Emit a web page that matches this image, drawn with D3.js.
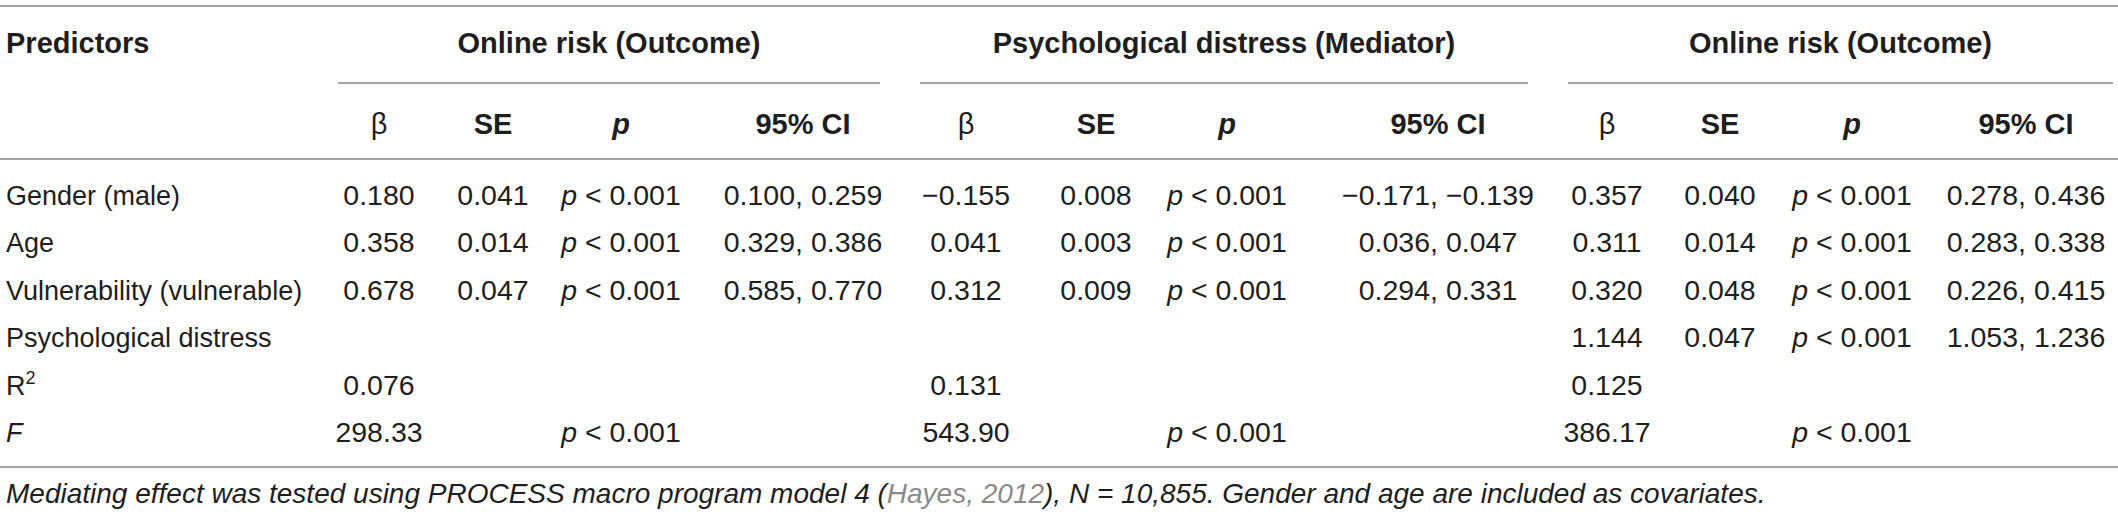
<!DOCTYPE html>
<html>
<head>
<meta charset="utf-8" />
<title>Mediation table</title>
<style>
html, body {
    margin: 0;
    padding: 0;
    background: #fff;
}
svg text {
    font-family: "Liberation Sans", Arial, Helvetica, sans-serif;
    fill: #1e1e1e;
}
</style>
</head>
<body>
<div id="chart"></div>
<script src="https://cdnjs.cloudflare.com/ajax/libs/d3/7.8.5/d3.min.js"></script>
<script>
// table content
var predictors = ["Gender (male)", "Age", "Vulnerability (vulnerable)", "Psychological distress", "R2", "F"];
var models = ["Online risk (Outcome)", "Psychological distress (Mediator)", "Online risk (Outcome)"];
var statHeads = ["β", "SE", "p", "95% CI"];

var outcomeBeta = [0.180, 0.358, 0.678, null, 0.076, 298.33];
var outcomeSE   = [0.041, 0.014, 0.047, null, null, null];
var outcomeP    = [0.001, 0.001, 0.001, null, null, 0.001];
var outcomeCI   = [[0.100, 0.259], [0.329, 0.386], [0.585, 0.770], null, null, null];

var mediatorBeta = [-0.155, 0.041, 0.312, null, 0.131, 543.90];
var mediatorSE   = [0.008, 0.003, 0.009, null, null, null];
var mediatorP    = [0.001, 0.001, 0.001, null, null, 0.001];
var mediatorCI   = [[-0.171, -0.139], [0.036, 0.047], [0.294, 0.331], null, null, null];

var fullBeta = [0.357, 0.311, 0.320, 1.144, 0.125, 386.17];
var fullSE   = [0.040, 0.014, 0.048, 0.047, null, null];
var fullP    = [0.001, 0.001, 0.001, 0.001, null, 0.001];
var fullCI   = [[0.278, 0.436], [0.283, 0.338], [0.226, 0.415], [1.053, 1.236], null, null];

var note = "Mediating effect was tested using PROCESS macro program model 4 (";
var noteRef = "Hayes, 2012";
var noteEnd = "), N = 10,855. Gender and age are included as covariates.";

var width = 2118, height = 515;

var svg = d3.select("#chart").append("svg")
    .attr("width", width)
    .attr("height", height);

// layout
var colKeys = [];
models.forEach(function(m, i) {
    statHeads.forEach(function(s) { colKeys.push(i + ":" + s) })
});
var x = d3.scaleOrdinal()
    .domain(colKeys)
    .range([379, 493, 621, 803, 966, 1096, 1227, 1438, 1607, 1720, 1852, 2026]);
var groupSpan = [[338, 880], [920, 1528], [1568, 2113]];

var y = d3.scalePoint()
    .domain(predictors)
    .range([195, 432]);

var f3 = d3.format(".3f"), f2 = d3.format(".2f");

function line(y0, x0, x1) {
    svg.append("line")
        .attr("x1", x0).attr("x2", x1)
        .attr("y1", y0).attr("y2", y0)
        .attr("stroke", "#858585")
        .attr("stroke-width", 1.6);
}

line(6, 0, 2118);
line(159, 0, 2118);
line(467, 0, 2118);
groupSpan.forEach(function(g) { line(83, g[0], g[1]) });

// header row
svg.append("text")
    .attr("x", 6).attr("y", 53)
    .attr("font-size", 29).attr("font-weight", "bold")
    .text("Predictors");

svg.selectAll(".model").data(models).enter()
    .append("text")
    .attr("class", "model")
    .attr("x", function(d, i) { return (groupSpan[i][0] + groupSpan[i][1]) / 2 })
    .attr("y", 53)
    .attr("text-anchor", "middle")
    .attr("font-size", 29).attr("font-weight", "bold")
    .text(function(d) { return d });

svg.selectAll(".stat").data(colKeys).enter()
    .append("text")
    .attr("class", "stat")
    .attr("x", function(d) { return x(d) })
    .attr("y", 134)
    .attr("text-anchor", "middle")
    .attr("font-size", 29)
    .attr("font-weight", function(d) { return d.split(":")[1] === "β" ? "normal" : "bold" })
    .attr("font-style", function(d) { return d.split(":")[1] === "p" ? "italic" : "normal" })
    .text(function(d) { return d.split(":")[1] });

// row labels
var labels = svg.selectAll(".label").data(predictors).enter()
    .append("text")
    .attr("class", "label")
    .attr("x", 6)
    .attr("y", function(d) { return y(d) + 10 })
    .attr("font-size", 27);

labels.each(function(d) {
    var t = d3.select(this);
    if (d === "R2") {
        t.append("tspan").text("R");
        t.append("tspan").attr("font-size", 18).attr("dy", -11).text("2");
    } else if (d === "F") {
        t.attr("font-style", "italic").text("F");
    } else {
        t.text(d);
    }
});

// cells
var series = [
    [outcomeBeta, outcomeSE, outcomeP, outcomeCI],
    [mediatorBeta, mediatorSE, mediatorP, mediatorCI],
    [fullBeta, fullSE, fullP, fullCI]
];

var cells = [];
series.forEach(function(s, m) {
    predictors.forEach(function(row, r) {
        var isF = row === "F";
        if (s[0][r] !== null) cells.push({ col: m + ":β", row: row, kind: "num", text: isF ? f2(s[0][r]) : f3(s[0][r]) });
        if (s[1][r] !== null) cells.push({ col: m + ":SE", row: row, kind: "num", text: f3(s[1][r]) });
        if (s[2][r] !== null) cells.push({ col: m + ":p", row: row, kind: "p", text: " < " + f3(s[2][r]) });
        if (s[3][r] !== null) cells.push({ col: m + ":95% CI", row: row, kind: "num", text: f3(s[3][r][0]) + ", " + f3(s[3][r][1]) });
    });
});

var cell = svg.selectAll(".cell").data(cells).enter()
    .append("text")
    .attr("class", "cell")
    .attr("x", function(d) { return x(d.col) })
    .attr("y", function(d) { return y(d.row) + 10 })
    .attr("text-anchor", "middle")
    .attr("font-size", 28.5);

cell.each(function(d) {
    var t = d3.select(this);
    if (d.kind === "p") {
        t.append("tspan").attr("font-style", "italic").text("p");
        t.append("tspan").text(d.text);
    } else {
        t.text(d.text);
    }
});

// footnote
var foot = svg.append("text")
    .attr("x", 6).attr("y", 503)
    .attr("font-size", 28)
    .attr("font-style", "italic");
foot.append("tspan").text(note);
foot.append("tspan").style("fill", "#8a8a8a").text(noteRef);
foot.append("tspan").text(noteEnd);
</script>
</body>
</html>
